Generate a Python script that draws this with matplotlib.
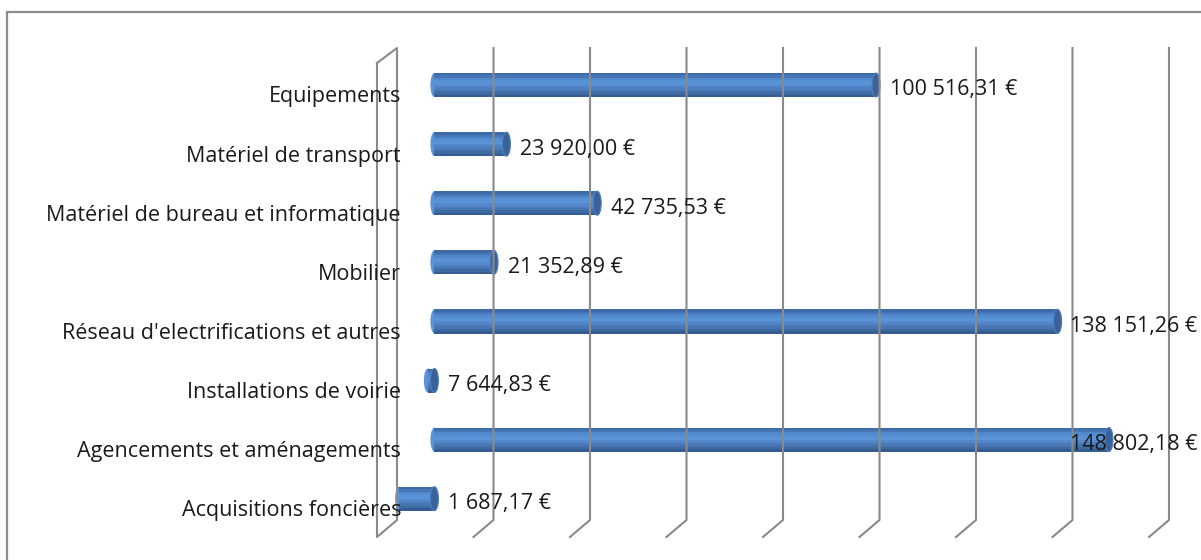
import numpy as np
import matplotlib
matplotlib.use("Agg")
import matplotlib.pyplot as plt
from matplotlib.patches import Ellipse, Rectangle
from matplotlib.lines import Line2D
from matplotlib.transforms import IdentityTransform

# --- Data ---
categories = [
    "Equipements",
    "Matériel de transport",
    "Matériel de bureau et informatique",
    "Mobilier",
    "Réseau d'electrifications et autres",
    "Installations de voirie",
    "Agencements et aménagements",
    "Acquisitions foncières",
]
values = [100516.31, 23920.00, 42735.53, 21352.89, 138151.26, 7644.83, 148802.18, 1687.17]

x_max = 160000
x_step = 20000
cross_at = 9000   # value where bars start (Excel "axis crosses at")

# --- Style ---
W, H, DPI = 1201, 560, 100
FONT = "Open Sans"
FS = 15.5
grid_col = "#8a8a8a"
body_cols = ["#3e6aa6", "#4676b8", "#5088cc", "#5890d6", "#5b93d8", "#5688cc",
             "#4e7fc0", "#4675b2", "#3e6aa3", "#355d91"]
cap_col = "#3a6299"

fig = plt.figure(figsize=(W / DPI, H / DPI), dpi=DPI)
fig.patch.set_facecolor("white")

# axes spans the whole height, x range mapped to the front plane of the bars
ax = fig.add_axes([391 / W, 0, 772 / W, 1])
ax.set_xlim(0, x_max)
row_px, top_px = 59.1, 85          # bar pitch and first bar centre (pixels from top)
ax.set_ylim((H - top_px) / row_px, -top_px / row_px)
ax.axis("off")

def px_y(y_top):  # pixel from top -> display y
    return H - y_top

# outer chart frame
fig.add_artist(Rectangle((7, -10), W + 20, px_y(12) + 10, transform=IdentityTransform(),
                         fill=False, edgecolor="#8c8c8c", lw=1.6))

# back wall gridlines with floor return (3D look)
wall_top, wall_bot, depth_x, depth_y = 48, 520, 20, 17
for k, t in enumerate(np.arange(0, x_max + 1, x_step)):
    gx = ax.transData.transform((t, 0))[0] + 6
    xs = [gx, gx, gx - depth_x]
    ys = [px_y(wall_top), px_y(wall_bot), px_y(wall_bot + depth_y)]
    if k == 0:
        xs = [gx - depth_x] + xs[:2] + [gx - depth_x, gx - depth_x]
        ys = [px_y(wall_top + 15), px_y(wall_top), px_y(wall_bot),
              px_y(wall_bot + depth_y), px_y(wall_top + 15)]
    fig.add_artist(Line2D(xs, ys, transform=IdentityTransform(), color=grid_col, lw=1.5))

# cylinders
bar_h = 0.406
cap_w = x_max * 8 / 772
n = len(body_cols)
for i, v in enumerate(values):
    lo, hi = min(v, cross_at), max(v, cross_at)
    for j, c in enumerate(body_cols):
        y0 = i - bar_h / 2 + j * bar_h / n
        ax.barh(y0, hi - lo, left=lo, height=bar_h / n + 0.002, align="edge",
                color=c, lw=0, zorder=3)
    ax.add_patch(Ellipse((lo, i), cap_w, bar_h, facecolor=body_cols[4], edgecolor="none", zorder=2))
    ax.add_patch(Ellipse((hi, i), cap_w, bar_h, facecolor=cap_col,
                         edgecolor="#4f7fbd", lw=0.8, zorder=4))

    # value label
    lab = f"{v:,.2f}".replace(",", " ").replace(".", ",") + " €"
    end_px = ax.transData.transform((hi, 0))[0] + cap_w / x_max * 772 / 2
    lx = min(end_px + 10, 1070)
    ly = ax.transData.transform((0, i))[1] - 5
    fig.text(lx / W, ly / H, lab, ha="left", va="center", fontsize=FS,
             family=FONT, color="#1a1a1a", zorder=6)

    # category label
    cy = ax.transData.transform((0, i))[1] - 12
    fig.text(401 / W, cy / H, categories[i], ha="right", va="center", fontsize=FS,
             family=FONT, color="#1a1a1a", zorder=6)

fig.savefig("out.png", dpi=DPI, facecolor="white")
